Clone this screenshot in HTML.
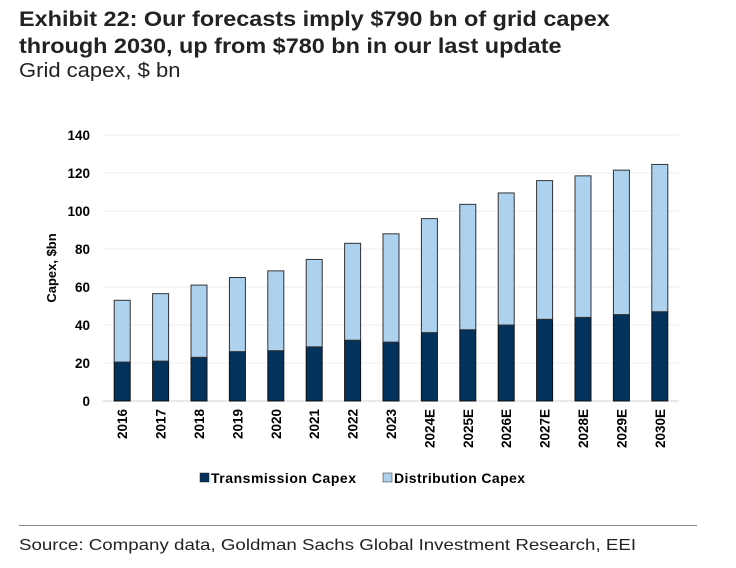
<!DOCTYPE html>
<html><head><meta charset="utf-8"><style>
body{margin:0;background:#fff;width:736px;height:568px;overflow:hidden;font-family:"Liberation Sans",sans-serif;position:relative}
.t{position:absolute;left:19px;top:6px;font-size:21px;font-weight:bold;line-height:27px;color:#222;transform:scaleX(1.115);transform-origin:left top;white-space:nowrap}
.s{position:absolute;left:19px;top:60px;font-size:20px;color:#222;transform:scaleX(1.1);transform-origin:left top;white-space:nowrap}
.src{position:absolute;left:19px;top:537px;font-size:16px;color:#222;transform:scaleX(1.17);transform-origin:left top;white-space:nowrap}
.rule{position:absolute;left:19px;top:525px;width:678px;height:1px;background:#888}
</style></head><body>
<div class="t">Exhibit 22: Our forecasts imply $790 bn of grid capex<br>through 2030, up from $780 bn in our last update</div>
<div class="s">Grid capex, $ bn</div>
<svg id="c" width="736" height="568" style="position:absolute;left:0;top:0"></svg>
<div class="rule"></div>
<div class="src">Source: Company data, Goldman Sachs Global Investment Research, EEI</div>
<script>
const categories=["2016","2017","2018","2019","2020","2021","2022","2023","2024E","2025E","2026E","2027E","2028E","2029E","2030E"];
const transmission=[20.5,21,23,26,26.5,28.5,32,31,36,37.5,40,43,44,45.5,47];
const distribution=[32.5,35.5,38,39,42,46,51,57,60,66,69.5,73,74.5,76,77.5];
const yTicks=[0,20,40,60,80,100,120,140];
const NS="http://www.w3.org/2000/svg";
const svg=document.getElementById('c');
const x0=103,x1=679,yb=401,yt=135,ymax=140;
const step=(x1-x0)/categories.length,bw=16;
const y=v=>yb-(v/ymax)*(yb-yt);
const xc=i=>x0+step*(i+0.5);
function mk(t,a){const e=document.createElementNS(NS,t);for(const k in a)e.setAttribute(k,a[k]);svg.appendChild(e);return e;}
yTicks.forEach(v=>{
 const g=mk('line',{x1:x0,x2:x1,y1:y(v),y2:y(v),stroke:v===0?'#d0d0d0':'#eeeeee','stroke-width':1});
 
 
 const t=mk('text',{x:90,y:y(v)+5,'text-anchor':'end','font-size':13.5,'font-weight':'bold',fill:'#000'});
 t.textContent=v;
 
 
});
const yl=mk('text',{transform:'translate(56,268) rotate(-90)','text-anchor':'middle','font-size':13,'font-weight':'bold'});
yl.textContent='Capex, $bn';


categories.forEach((c,i)=>{
 const cx=xc(i);
 const r1=mk('rect',{x:cx-bw/2,y:y(transmission[i]),width:bw,height:yb-y(transmission[i]),fill:'#03335c',stroke:'#111','stroke-width':1});
 
 
 const tot=transmission[i]+distribution[i];
 const r2=mk('rect',{x:cx-bw/2,y:y(tot),width:bw,height:y(transmission[i])-y(tot),fill:'#acd2ef',stroke:'#333','stroke-width':1});
 
 
 const t=mk('text',{transform:`translate(${cx+5},${409}) rotate(-90)`,'text-anchor':'end','font-size':13.5,'font-weight':'bold'});
 t.textContent=c;
 
 
});
[['#03335c','Transmission Capex',200,'legend-transmission',145],['#acd2ef','Distribution Capex',383,'legend-distribution',131]].forEach(l=>{
 const r=mk('rect',{x:l[2],y:473,width:9,height:9,fill:l[0],stroke:'#222','stroke-width':0.5});
 
 
 const t=mk('text',{x:l[2]+11,y:483,'font-size':14,'font-weight':'bold',textLength:l[4]});
 t.textContent=l[1];
 
 
});
</script>
</body></html>
